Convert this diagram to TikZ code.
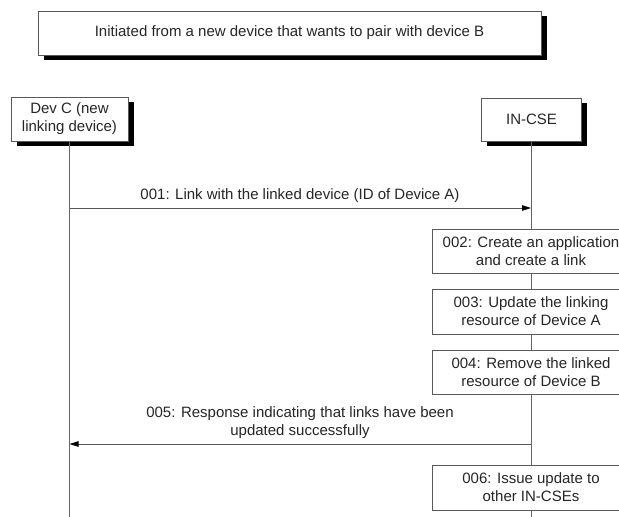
\documentclass[tikz,border=0pt]{standalone}
\usepackage{fontspec}
\setmainfont{Liberation Sans}
\usetikzlibrary{arrows.meta,shadows}
\begin{document}
\begin{tikzpicture}[x=1pt,y=-1pt,
  every node/.style={font=\fontsize{15}{18}\selectfont, text=black!85},
  box/.style={draw=black!65, line width=0.8pt, fill=white, align=center, inner sep=0pt},
  shadowbox/.style={box, drop shadow={shadow xshift=5.5pt, shadow yshift=-5pt, fill=black, opacity=1}},
  life/.style={draw=black!60, line width=0.8pt},
  msg/.style={draw=black!65, line width=0.8pt, -{Triangle[length=9pt,width=5.5pt,color=black]}},
  msglabel/.style={align=center, inner sep=0pt}
]
\useasboundingbox (0,0) rectangle (619,517);
\clip (0,0) rectangle (619,517);
\fill[white] (0,0) rectangle (619,517);

% title
\node[shadowbox, minimum width=503pt, minimum height=44pt] (title) at (289.5,33) {Initiated from a new device that wants to pair with device B};

% participants
\node[shadowbox, minimum width=117pt, minimum height=44pt] (devc) at (69.5,119) {Dev C (new\\linking device)};
\node[shadowbox, minimum width=100pt, minimum height=43pt] (incse) at (531.5,119.5) {IN-CSE};

\coordinate (devcend) at (69.5,517);
\coordinate (incseend) at (531,517);
\draw[life] (devc.south) -- (devcend);
\draw[life] (531,141) -- (incseend);

% 001
\coordinate (m1s) at (69.5,208);
\coordinate (m1e) at (531,208);
\draw[msg] (m1s) -- (m1e);
\node[msglabel] (l1) at (300,196) {001: Link with the linked device (ID of Device A)};

% action boxes
\node[box, minimum width=198pt, minimum height=44pt] (b2) at (531,251) {002: Create an application\\and create a link};
\node[box, minimum width=198pt, minimum height=45pt] (b3) at (531,311.5) {003: Update the linking\\resource of Device A};
\node[box, minimum width=198pt, minimum height=44pt] (b4) at (531,372) {004: Remove the linked\\resource of Device B};

% 005
\coordinate (m5s) at (531,444);
\coordinate (m5e) at (69.5,444);
\draw[msg] (m5s) -- (m5e);
\node[msglabel] (l5) at (300,423) {005: Response indicating that links have been\\updated successfully};

% 006
\node[box, minimum width=198pt, minimum height=45pt] (b6) at (531,487.5) {006: Issue update to\\other IN-CSEs};
\end{tikzpicture}
\end{document}
